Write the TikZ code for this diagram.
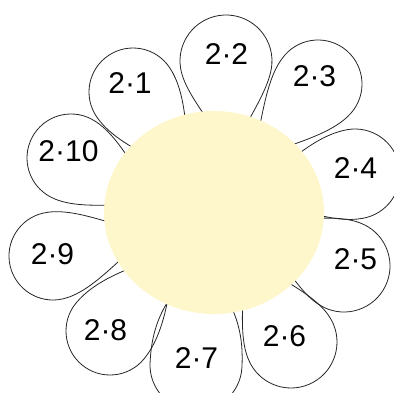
\documentclass[tikz,border=0pt]{standalone}
\usepackage{fontspec}
\newfontfamily\lblfont{Liberation Sans}
\definecolor{sunfill}{RGB}{255,247,204}
\newcommand\flpetal[5]{%
  \begin{scope}[shift={(#1,{392-#2})}, rotate=#3]
    \draw[petal] (-100,0) .. controls (-63.7,#5) and (-30,#4) .. (0,#4)
      arc[start angle=90, end angle=-90, radius=#4]
      .. controls (-30,-#4) and (-63.7,-#5) .. cycle;
  \end{scope}}
\tikzset{
  petal/.style={draw=black!85, line width=0.8pt},
  lbl/.style={inner sep=0pt, font=\lblfont\fontsize{30}{36}\selectfont},
}
\begin{document}
\begin{tikzpicture}[x=1pt,y=1pt]
\clip (0,0) rectangle (394,392);
% petals: bulb centre (pixel x,y), axis angle, radius, neck
\flpetal{133}{92}{123.8}{44}{22}
\flpetal{226}{61}{92.9}{46}{12}
\flpetal{318}{84}{49}{44}{18}
\flpetal{355}{174}{10}{45}{25}
\flpetal{344}{266}{-26.5}{46}{17}
\flpetal{291}{342}{-61.4}{46}{17}
\flpetal{196}{365}{-92.8}{46}{40}
\flpetal{110}{331}{-129.6}{44}{25}
\flpetal{53}{256}{-167}{44}{17}
\flpetal{71}{158}{152.4}{44}{17}
% centre
\fill[sunfill] (214,179.5) ellipse [x radius=110, y radius=101.5];
% labels
\node[lbl] (l1) at (130,{392-83.5}) {2·1};
\node[lbl] (l2) at (226.5,{392-54}) {2·2};
\node[lbl] (l3) at (314.5,{392-76.5}) {2·3};
\node[lbl] (l4) at (355.5,{392-168.5}) {2·4};
\node[lbl] (l5) at (355.5,{392-259}) {2·5};
\node[lbl] (l6) at (284.5,{392-336}) {2·6};
\node[lbl] (l7) at (196.5,{392-358.5}) {2·7};
\node[lbl] (l8) at (105.5,{392-330.5}) {2·8};
\node[lbl] (l9) at (52.5,{392-254}) {2·9};
\node[lbl] (l10) at (68.5,{392-151.5}) {2·10};
\end{tikzpicture}
\end{document}
